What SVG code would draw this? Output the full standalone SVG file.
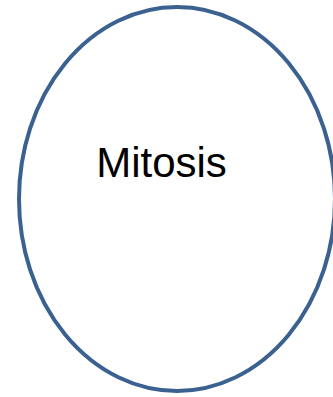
<svg xmlns="http://www.w3.org/2000/svg" width="333" height="397" viewBox="0 0 333 397">
<style>
.node{fill:#ffffff;stroke:#3b6191;stroke-width:4}
.label{font-family:"Liberation Sans",Arial,sans-serif;font-size:42px;fill:#000000;text-anchor:middle}
</style>
<rect width="333" height="397" fill="#ffffff"/>
<g id="mitosis">
<ellipse class="node" cx="177" cy="199" rx="158" ry="192"/>
<text class="label" x="161.5" y="177">Mitosis</text>
</g>
<g id="connectors"></g>
</svg>
